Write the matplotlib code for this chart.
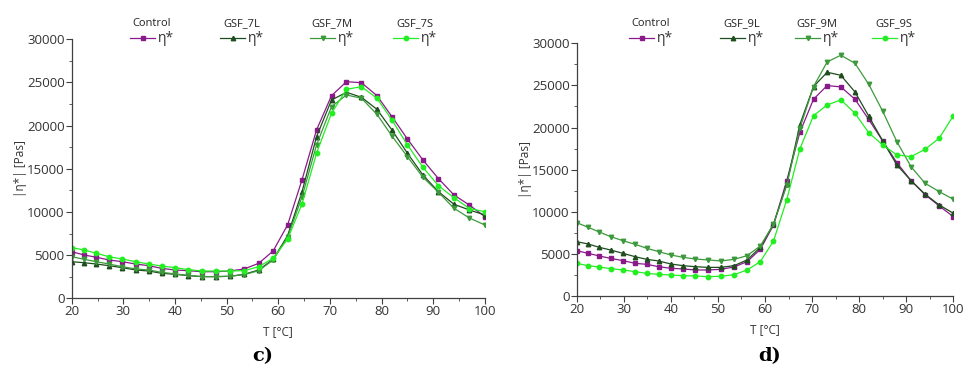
import matplotlib.pyplot as plt
from matplotlib.ticker import MultipleLocator
from matplotlib.lines import Line2D

# temperature points (same for both panels)
T = [20.0, 22.4, 24.8, 27.2, 29.8, 32.4, 34.9, 37.4, 40.0, 42.6,
     45.2, 47.9, 50.6, 53.4, 56.2, 59.0, 61.8, 64.6, 67.4, 70.3,
     73.2, 76.1, 79.1, 82.0, 85.0, 88.0, 91.0, 94.0, 97.0, 100.0]

# panel c)
control_c = [5400, 5020, 4750, 4440, 4240, 3970, 3780, 3470, 3280, 3200,
             3080, 3080, 3160, 3400, 4050, 5480, 8500, 13750, 19500, 23470,
             25090, 24970, 23470, 21040, 18450, 16020, 13860, 11970, 10800, 9450]
gsf_7l = [4240, 4120, 3970, 3780, 3550, 3280, 3160, 2900, 2780, 2620,
          2510, 2510, 2550, 2780, 3280, 4520, 7260, 12350, 18720, 22970,
          23860, 23280, 21890, 19490, 16800, 14280, 12350, 10890, 10230, 9650]
gsf_7m = [4820, 4520, 4240, 3970, 3660, 3400, 3280, 3010, 2820, 2660,
          2510, 2510, 2550, 2740, 3200, 4440, 7060, 11770, 17760, 22200,
          23550, 23170, 21310, 18800, 16400, 14020, 12280, 10430, 9300, 8490]
gsf_7s = [5870, 5600, 5210, 4820, 4550, 4240, 3970, 3740, 3550, 3320,
          3160, 3160, 3160, 3200, 3660, 4630, 6850, 10950, 16800, 21430,
          24210, 24510, 23170, 20650, 17760, 15170, 13040, 11650, 10400, 10030]

# panel d)
control_d = [5380, 5070, 4750, 4470, 4200, 3880, 3760, 3480, 3290, 3210,
             3090, 3090, 3170, 3440, 4080, 5540, 8430, 13680, 19420, 23360,
             24980, 24820, 23360, 20980, 18410, 15830, 13700, 12030, 10690, 9420]
gsf_9l = [6450, 6180, 5780, 5460, 5070, 4670, 4350, 4160, 3800, 3600,
          3480, 3400, 3400, 3600, 4280, 5780, 8550, 13260, 20350, 24860,
          26560, 26200, 24230, 21380, 18410, 15560, 13700, 12080, 10810, 9820]
gsf_9m = [8710, 8160, 7600, 7050, 6570, 6140, 5660, 5270, 4870, 4590,
          4390, 4280, 4160, 4350, 4790, 5940, 8510, 13120, 19900, 24860,
          27790, 28580, 27630, 25160, 21930, 18330, 15360, 13380, 12390, 11480]
gsf_9s = [3880, 3600, 3440, 3250, 3090, 2890, 2690, 2570, 2490, 2410,
          2380, 2300, 2340, 2530, 3090, 4080, 6530, 11400, 17460, 21410,
          22680, 23280, 21700, 19400, 17930, 16750, 16540, 17420, 18730, 21410]

names_c = ['Control', 'GSF_7L', 'GSF_7M', 'GSF_7S']
names_d = ['Control', 'GSF_9L', 'GSF_9M', 'GSF_9S']

colors = ['#8a1a8a', '#1e4d1e', '#3c9a3c', '#22ee22']
markers = ['s', '^', 'v', 'o']

TICK_FONT = 'Open Sans'
GRAY = '#404040'


def draw_panel(ax, series, names, legend_x, caption, cap_x):
    for y, c, m in zip(series, colors, markers):
        ax.plot(T, y, color=c, lw=0.9, marker=m, ms=3.2,
                markerfacecolor=c, markeredgecolor=c)

    ax.set_xlim(20, 100)
    ax.set_ylim(0, 30000)
    ax.xaxis.set_major_locator(MultipleLocator(10))
    ax.xaxis.set_minor_locator(MultipleLocator(5))
    ax.yaxis.set_major_locator(MultipleLocator(5000))
    ax.yaxis.set_minor_locator(MultipleLocator(2500))
    for s in ['top', 'right']:
        ax.spines[s].set_visible(False)
    for s in ['left', 'bottom']:
        ax.spines[s].set_color(GRAY)
        ax.spines[s].set_linewidth(0.9)
    ax.tick_params(which='major', length=4, color=GRAY, labelsize=9.5,
                   labelcolor='#333333', pad=1)
    ax.tick_params(which='minor', length=2, color=GRAY)
    for lab in ax.get_xticklabels() + ax.get_yticklabels():
        lab.set_family(TICK_FONT)

    ax.set_xlabel('T [°C]', family=TICK_FONT, fontsize=8.5, color='#333333', labelpad=5)
    ax.set_ylabel('|η*| [Pas]', family=TICK_FONT, fontsize=8.5, color='#333333', labelpad=0)

    # one small legend per sample, name on top
    for name, c, m, lx in zip(names, colors, markers, legend_x):
        h = Line2D([], [], color=c, lw=0.9, marker=m, ms=3.2,
                   markerfacecolor=c, markeredgecolor=c)
        leg = fig.legend([h], ['η*'], title=name, frameon=False,
                         loc='upper center', bbox_to_anchor=(lx / 966, 1 - 8 / 369),
                         title_fontsize=8, handlelength=1.8,
                         handletextpad=0.2, borderpad=0.2, labelspacing=0.2,
                         prop={'family': TICK_FONT, 'size': 10})
        leg.get_title().set_family(TICK_FONT)
        leg.get_title().set_color('#222222')
        for t in leg.get_texts():
            t.set_color('#333333')

    fig.text(cap_x / 966, 1 - 361 / 369, caption, ha='center', va='baseline',
             family='DejaVu Serif', fontweight='bold', fontsize=14)


fig = plt.figure(figsize=(9.66, 3.69), dpi=100)
ax1 = fig.add_axes([0.0742, 0.1916, 0.5020 - 0.0742, 0.8935 - 0.1916])
ax2 = fig.add_axes([0.5970, 0.1978, 0.9869 - 0.5970, 0.8827 - 0.1978])

draw_panel(ax1, [control_c, gsf_7l, gsf_7m, gsf_7s], names_c,
           [152, 242, 332, 415], 'c)', 263)
draw_panel(ax2, [control_d, gsf_9l, gsf_9m, gsf_9s], names_d,
           [651, 742, 817, 894], 'd)', 770)

fig.savefig('out.png', dpi=100)
